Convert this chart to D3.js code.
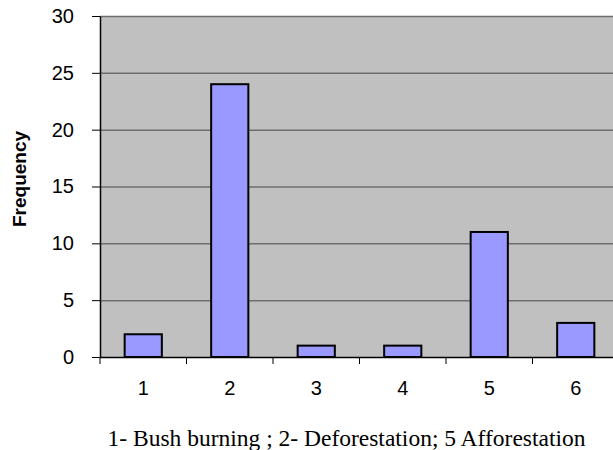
<!DOCTYPE html>
<html><head><meta charset="utf-8">
<script src="https://cdn.jsdelivr.net/npm/d3@7"></script>
<style>body{margin:0;background:#fff}svg{display:block}</style>
</head><body>
<script>
const categories = ["1","2","3","4","5","6"];
const values = [2,24,1,1,11,3];
const yTicks = [0,5,10,15,20,25,30];
const yLabel = "Frequency";
const caption = "1- Bush burning ; 2- Deforestation; 5 Afforestation";

const W=613,H=450;
const mL=100,mR=619,mT=16,mB=357;
const svg=d3.select("body").append("svg").attr("width",W).attr("height",H);
const x=d3.scaleBand().domain(categories).range([mL,mR]).paddingInner(0.57).paddingOuter(0.285);
const xb=d3.scaleBand().domain(categories).range([mL,mR]);
const y=d3.scaleLinear().domain([0,30]).range([mB,mT]);

svg.append("rect").attr("x",mL).attr("y",mT).attr("width",mR-mL).attr("height",mB-mT).attr("fill","#c0c0c0");
svg.append("g").selectAll("line").data(yTicks.filter(d=>d>0)).join("line")
  .attr("x1",mL).attr("x2",mR).attr("y1",d=>y(d)+0.5).attr("y2",d=>y(d)+0.5)
  .attr("stroke","#6e6e6e").attr("stroke-width",1.5);

svg.append("g").selectAll("rect").data(values).join("rect")
  .attr("x",(d,i)=>x(categories[i])).attr("width",x.bandwidth())
  .attr("y",d=>y(d)).attr("height",d=>mB-y(d))
  .attr("fill","#9999ff").attr("stroke","#000").attr("stroke-width",2);

const ya=svg.append("g").attr("transform",`translate(${mL},0)`)
  .call(d3.axisLeft(y).tickValues(yTicks).tickSize(8).tickPadding(18).tickSizeOuter(0));
ya.select(".domain").attr("stroke","#000").attr("stroke-width",1.5);
ya.selectAll(".tick line").attr("stroke","#000");
ya.selectAll("text").attr("font-family","Arial, 'Liberation Sans', sans-serif").attr("font-size",20).attr("fill","#000");

const xa=svg.append("g").attr("transform",`translate(0,${mB})`)
  .call(d3.axisBottom(xb).tickSize(0).tickPadding(24));
xa.select(".domain").attr("stroke","#000").attr("stroke-width",1.5).attr("d",`M${mL},0.5H${mR}`);
xa.selectAll("text").attr("font-family","Arial, 'Liberation Sans', sans-serif").attr("font-size",20).attr("fill","#000");
svg.append("g").selectAll("line").data(categories).join("line")
  .attr("x1",d=>xb(d)).attr("x2",d=>xb(d)).attr("y1",mB).attr("y2",mB+7).attr("stroke","#000");

svg.append("text").attr("transform","translate(26,179) rotate(-90)").attr("text-anchor","middle")
  .attr("font-family","Arial, 'Liberation Sans', sans-serif").attr("font-weight","bold").attr("font-size",19).text(yLabel);

svg.append("text").attr("x",346.5).attr("y",446).attr("text-anchor","middle")
  .attr("font-family","'Times New Roman','Liberation Serif',serif").attr("font-size",23.5).text(caption);
</script>
</body></html>
